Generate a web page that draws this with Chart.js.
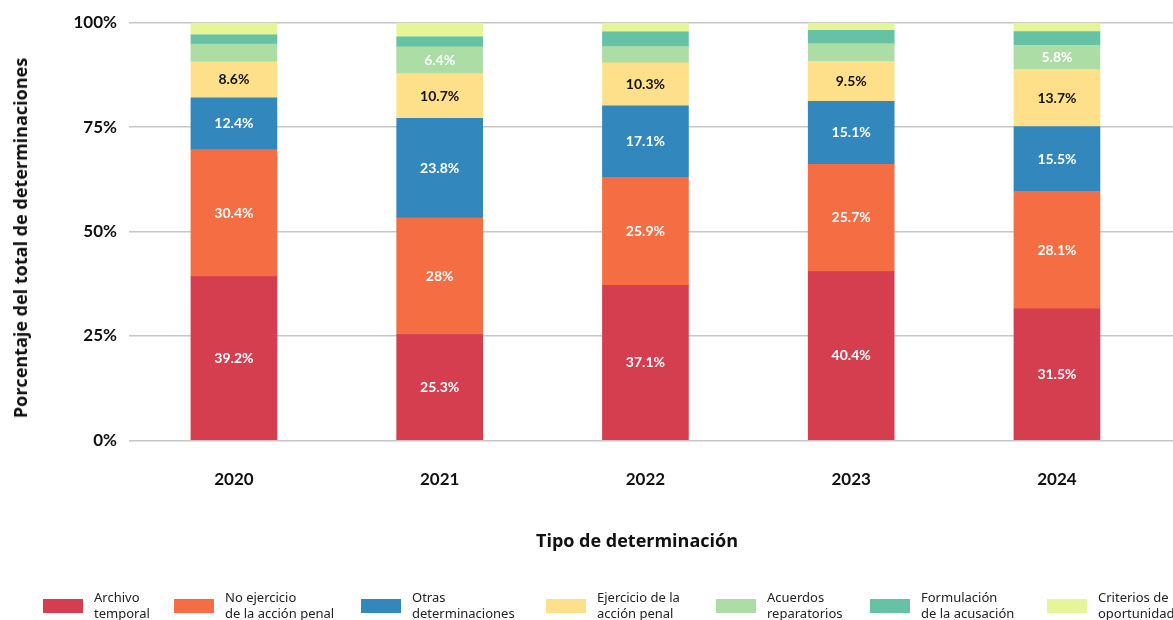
<!DOCTYPE html>
<html><head><meta charset="utf-8">
<script src="https://cdn.jsdelivr.net/npm/chart.js@4.4.1/dist/chart.umd.min.js"></script>
<style>
html,body{margin:0;padding:0;background:#fff;overflow:hidden}
#wrap{position:relative;width:1173px;height:620px}
#c{position:absolute;left:0;top:0}
.ytitle{position:absolute;left:20px;top:238px;transform:translate(-50%,-50%) rotate(-90deg);font:bold 18px 'Open Sans';white-space:nowrap;color:#111}
.xtitle{position:absolute;left:637px;top:540px;transform:translate(-50%,-50%);font:bold 18px 'Open Sans';color:#111;white-space:nowrap}
.leg{position:absolute;top:590px;display:flex;align-items:center}
.leg .box{width:40px;height:14px;margin-right:11px;flex:none}
.leg .txt{font:13px 'Noto Sans';line-height:15.5px;color:#222;white-space:nowrap}
</style>
</head><body>
<div id="wrap">
<canvas id="c" width="1173" height="620"></canvas>
<div class="ytitle">Porcentaje del total de determinaciones</div>
<div class="xtitle">Tipo de determinación</div>
<div id="legend"></div>
</div>
<script>
const years = ['2020','2021','2022','2023','2024'];
const archivo = [39.2, 25.3, 37.1, 40.4, 31.5];
const noEjercicio = [30.4, 28, 25.9, 25.7, 28.1];
const otras = [12.4, 23.8, 17.1, 15.1, 15.5];
const ejercicio = [8.6, 10.7, 10.3, 9.5, 13.7];
const acuerdos = [4.3, 6.4, 3.9, 4.3, 5.8];
const formulacion = [2.2, 2.4, 3.5, 3.2, 3.3];
const criterios = [2.9, 3.4, 2.2, 1.8, 2.1];
const yTicks = [0, 25, 50, 75, 100];

const seriesNames = [
  ['Archivo', 'temporal'],
  ['No ejercicio', 'de la acción penal'],
  ['Otras', 'determinaciones'],
  ['Ejercicio de la', 'acción penal'],
  ['Acuerdos', 'reparatorios'],
  ['Formulación', 'de la acusación'],
  ['Criterios de', 'oportunidad']
];
const seriesValues = [archivo, noEjercicio, otras, ejercicio, acuerdos, formulacion, criterios];
const colors = ['#d53e4f', '#f46d43', '#3288bd', '#fee08b', '#abdda4', '#66c2a5', '#e6f598'];
const labelColors = ['#fff', '#fff', '#fff', '#111', '#fff', '#fff', '#111'];
const legendLeft = [43, 174, 361, 546, 716, 870, 1047];

const datasets = seriesValues.map((vals, k) => ({
  label: seriesNames[k].join(' '),
  data: vals.map((v, i) => ({x: i, y: v})),
  backgroundColor: colors[k],
  borderWidth: 0,
  barThickness: 86
}));

const labelPlugin = {
  id: 'segLabels',
  afterDatasetsDraw(chart) {
    const ctx = chart.ctx;
    ctx.save();
    ctx.font = 'bold 14px Lato';
    ctx.textAlign = 'center';
    ctx.textBaseline = 'middle';
    chart.data.datasets.forEach((ds, k) => {
      const meta = chart.getDatasetMeta(k);
      meta.data.forEach((el, i) => {
        const v = seriesValues[k][i];
        if (v < 5) return;
        ctx.fillStyle = labelColors[k];
        ctx.fillText(v + '%', el.x, (el.y + el.base) / 2);
      });
    });
    ctx.restore();
  }
};

new Chart(document.getElementById('c'), {
  type: 'bar',
  data: {datasets},
  plugins: [labelPlugin],
  options: {
    responsive: false,
    animation: false,
    layout: {padding: {top: 22.7, bottom: 101.3, left: 0, right: 0}},
    plugins: {legend: {display: false}, tooltip: {enabled: false}},
    scales: {
      x: {
        type: 'linear',
        stacked: true,
        offset: false,
        min: -0.51,
        max: 4.564,
        grid: {display: false, drawTicks: false},
        border: {display: false},
        afterBuildTicks: s => { s.ticks = years.map((_, i) => ({value: i})); },
        ticks: {
          autoSkip: false, maxRotation: 0, padding: 29,
          color: '#111', font: {family: 'Lato', weight: 'bold', size: 17},
          callback: v => years[v] !== undefined ? years[v] : ''
        }
      },
      y: {
        stacked: true,
        min: 0, max: 100,
        afterFit: s => { s.width = 129; },
        afterBuildTicks: s => { s.ticks = yTicks.map(v => ({value: v})); },
        grid: {color: '#c6c6c6', lineWidth: 1.5, drawTicks: false},
        border: {display: false},
        ticks: {
          padding: 12, color: '#111',
          font: {family: 'Lato', weight: 'bold', size: 17},
          callback: v => v + '%'
        }
      }
    }
  }
});

const leg = document.getElementById('legend');
seriesNames.forEach((n, k) => {
  const d = document.createElement('div');
  d.className = 'leg';
  d.style.left = legendLeft[k] + 'px';
  d.innerHTML = '<div class="box" style="background:' + colors[k] + '"></div><div class="txt">' + n[0] + '<br>' + n[1] + '</div>';
  leg.appendChild(d);
});
</script>
</body></html>
